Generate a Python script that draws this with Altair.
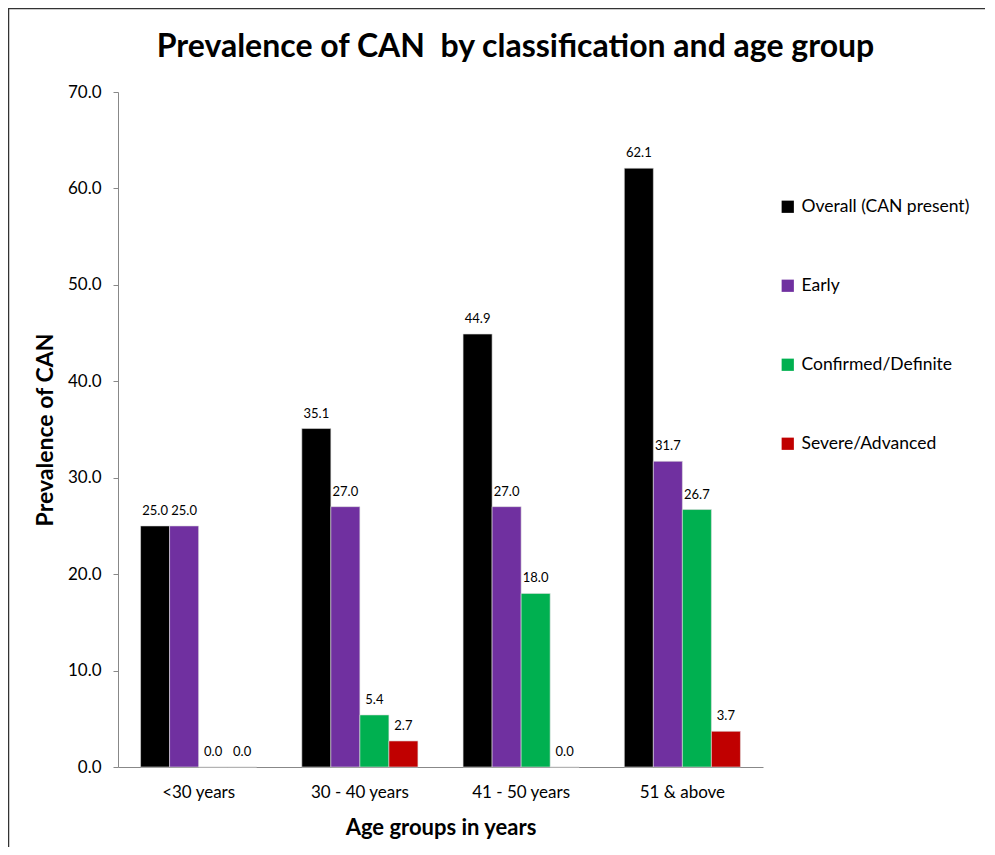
import altair as alt
import pandas as pd

groups = ["<30 years", "30 - 40 years", "41 - 50 years", "51 & above"]
series = ["Overall (CAN present)", "Early", "Confirmed/Definite", "Severe/Advanced"]
colors = ["#000000", "#7030A0", "#00B050", "#C00000"]
overall = [25.0, 35.1, 44.9, 62.1]
early = [25.0, 27.0, 27.0, 31.7]
confirmed = [0.0, 5.4, 18.0, 26.7]
severe = [0.0, 2.7, 0.0, 3.7]

rows = []
for s, vals in zip(series, [overall, early, confirmed, severe]):
    for g, v in zip(groups, vals):
        rows.append({"group": g, "series": s, "value": v})
df = pd.DataFrame(rows)

FONT = "Lato"
W, H = 645, 675
PL, PT, PR, PB = 110, 84, 222, 80

x_enc = alt.X("group:N", sort=groups,
              scale=alt.Scale(paddingInner=0.28, paddingOuter=0.14),
              axis=alt.Axis(title="Age groups in years", labelAngle=0,
                            labelFontSize=17, labelFont=FONT, labelColor="#000",
                            ticks=False, domainColor="#888", labelPadding=17,
                            titleFontSize=22, titleFont=FONT, titleFontWeight="bold",
                            titlePadding=17, titleColor="#000"))
xo_enc = alt.XOffset("series:N", sort=series, scale=alt.Scale(paddingInner=0, paddingOuter=0))
y_enc = alt.Y("value:Q", scale=alt.Scale(domain=[0, 70], nice=False),
              axis=alt.Axis(title="Prevalence of CAN", format=".1f", values=list(range(0, 71, 10)),
                            grid=False, tickSize=5, tickColor="#888", domainColor="#888",
                            labelFontSize=17, labelFont=FONT, labelColor="#000", labelPadding=12,
                            titleFontSize=23, titleFont=FONT, titleFontWeight="bold",
                            titlePadding=10, titleColor="#000"))

base = alt.Chart(df)
bars = base.mark_bar(stroke="#dddddd", strokeWidth=0.6).encode(
    x=x_enc, xOffset=xo_enc, y=y_enc,
    color=alt.Color("series:N", sort=series,
                    scale=alt.Scale(domain=series, range=colors),
                    legend=alt.Legend(title=None, orient="none", legendX=661, legendY=106,
                                      labelFontSize=17.5, labelFont=FONT, labelColor="#000",
                                      labelLimit=400,
                                      symbolType="square", symbolSize=150, symbolStrokeWidth=0,
                                      rowPadding=60, labelOffset=5)),
)
labels = base.mark_text(baseline="bottom", dy=-8, fontSize=13, font=FONT, color="#000").encode(
    x=x_enc, xOffset=xo_enc, y=y_enc, text=alt.Text("value:Q", format=".1f"),
)

frame_df = pd.DataFrame({"a": [0]})
left_line = alt.Chart(frame_df).mark_rule(color="#333", strokeWidth=1.5).encode(
    x=alt.value(-PL + 0.5), y=alt.value(-PT), y2=alt.value(H + PB))
top_line = alt.Chart(frame_df).mark_rule(color="#333", strokeWidth=1.5).encode(
    y=alt.value(-PT + 0.5), x=alt.value(-PL), x2=alt.value(W + PR))

chart = alt.layer(bars, labels, left_line, top_line).properties(
    width=W, height=H,
    autosize=alt.AutoSizeParams(type="none"),
    padding={"left": PL, "top": PT, "right": PR, "bottom": PB},
    title=alt.TitleParams("Prevalence of CAN\u00a0 by classification and age group",
                          fontSize=32, font=FONT, fontWeight="bold", color="#000",
                          anchor="middle", dx=75, offset=-57),
).configure(background="white", view=alt.ViewConfig(strokeWidth=0, stroke="transparent"))

chart.save("out.html", embed_options={"renderer": "svg", "actions": False})
